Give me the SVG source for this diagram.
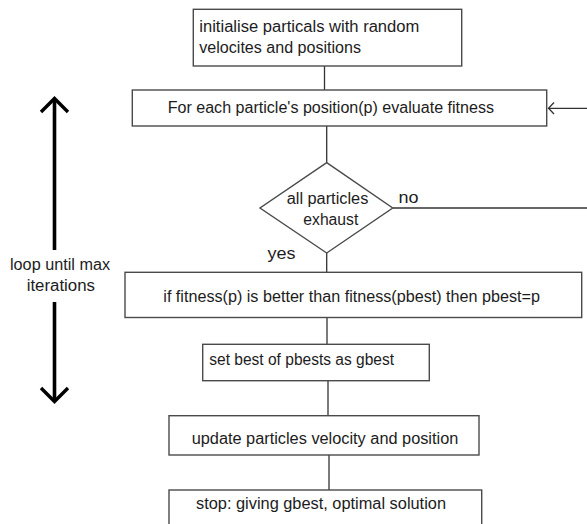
<svg xmlns="http://www.w3.org/2000/svg" width="587" height="524" viewBox="0 0 587 524">
  <style>
    .box { fill: #ffffff; stroke: #4a4a4a; stroke-width: 1.4; }
    .txt { font-family: "Liberation Sans", Arial, sans-serif; font-size: 16px; fill: #1c1c1c; }
    .conn { stroke: #333333; stroke-width: 1.3; fill: none; }
    .loop { stroke: #000000; stroke-width: 3.6; fill: none; stroke-linecap: butt; }
    .head { stroke: #000000; stroke-width: 3.4; fill: none; stroke-linejoin: miter; }
  </style>

  <rect width="587" height="524" fill="#ffffff"/>

  <!-- connectors -->
  <g id="connectors">
    <line class="conn" x1="324.5" y1="66" x2="324.5" y2="90"/>
    <line class="conn" x1="326.7" y1="126" x2="326.7" y2="162.5"/>
    <line class="conn" x1="326.7" y1="253" x2="326.7" y2="272"/>
    <line class="conn" x1="327" y1="317.5" x2="327" y2="344.3"/>
    <line class="conn" x1="328" y1="380.7" x2="328" y2="415.7"/>
    <line class="conn" x1="329" y1="455" x2="329" y2="490"/>
    <!-- "no" branch leaving to the right, returning into the evaluate step -->
    <line class="conn" x1="393" y1="208" x2="587" y2="208" stroke="#666666"/>
    <line class="conn" x1="587" y1="108.3" x2="548.5" y2="108.3"/>
    <polyline class="conn" points="554,102.5 548.5,108.3 554,114"/>
    <text class="txt" x="398.5" y="203" textLength="20" lengthAdjust="spacingAndGlyphs">no</text>
    <text class="txt" x="267.5" y="259" textLength="28" lengthAdjust="spacingAndGlyphs">yes</text>
  </g>

  <!-- iteration indicator -->
  <g id="loop">
    <line class="loop" x1="54.5" y1="99" x2="54.5" y2="250"/>
    <line class="loop" x1="54.5" y1="302" x2="54.5" y2="401"/>
    <polyline class="head" points="41,112 54.5,98.5 68,112"/>
    <polyline class="head" points="41,388 54.5,401.5 68,388"/>
    <text class="txt" x="10" y="270" textLength="100" lengthAdjust="spacingAndGlyphs">loop until max</text>
    <text class="txt" x="26.7" y="291" textLength="68.3" lengthAdjust="spacingAndGlyphs">iterations</text>
  </g>

  <g id="init">
    <rect class="box" x="193.3" y="9.3" width="268.4" height="56.7"/>
    <text class="txt" x="199.3" y="31.5" textLength="220" lengthAdjust="spacingAndGlyphs">initialise particals with random</text>
    <text class="txt" x="199.3" y="53" textLength="161.7" lengthAdjust="spacingAndGlyphs">velocites and positions</text>
  </g>

  <g id="evaluate">
    <rect class="box" x="132.3" y="90" width="414.4" height="36"/>
    <text class="txt" x="167.7" y="112.5" textLength="326.3" lengthAdjust="spacingAndGlyphs">For each particle's position(p) evaluate fitness</text>
  </g>

  <g id="decision">
    <polygon class="box" points="326.7,162.7 392.7,208 326.7,253 260,208"/>
    <text class="txt" x="286.7" y="204" textLength="81.6" lengthAdjust="spacingAndGlyphs">all particles</text>
    <text class="txt" x="303.3" y="225" textLength="55" lengthAdjust="spacingAndGlyphs">exhaust</text>
  </g>

  <g id="pbest">
    <rect class="box" x="125" y="272.3" width="456.7" height="45.2"/>
    <text class="txt" x="163.3" y="301.5" textLength="376.7" lengthAdjust="spacingAndGlyphs">if fitness(p) is better than fitness(pbest) then pbest=p</text>
  </g>

  <g id="gbest">
    <rect class="box" x="202.7" y="344.3" width="226.6" height="36.4"/>
    <text class="txt" x="209.3" y="365" textLength="184.7" lengthAdjust="spacingAndGlyphs">set best of pbests as gbest</text>
  </g>

  <g id="update">
    <rect class="box" x="169" y="415.7" width="310" height="39.3"/>
    <text class="txt" x="191.7" y="443.5" textLength="266.6" lengthAdjust="spacingAndGlyphs">update particles velocity and position</text>
  </g>

  <g id="stop">
    <rect class="box" x="169" y="490" width="312.7" height="40"/>
    <text class="txt" x="196" y="508.5" textLength="250" lengthAdjust="spacingAndGlyphs">stop: giving gbest, optimal solution</text>
  </g>
</svg>
